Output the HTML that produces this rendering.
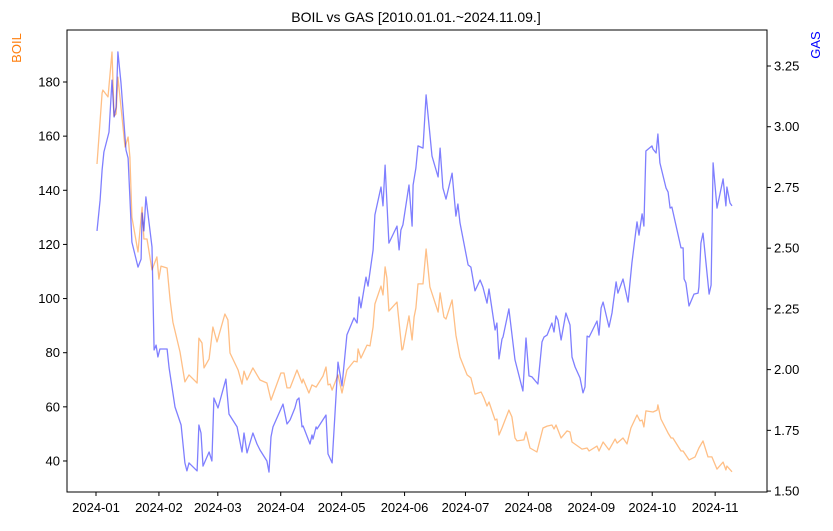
<!DOCTYPE html>
<html><head><meta charset="utf-8"><style>
body{margin:0;background:#fff}
svg{font-family:"Liberation Sans","DejaVu Sans",sans-serif}
</style></head><body>
<svg id="chart" width="833" height="526" xmlns="http://www.w3.org/2000/svg">
<rect width="833" height="526" fill="#fff"/>
<text x="416" y="22" text-anchor="middle" font-size="14">BOIL vs GAS [2010.01.01.~2024.11.09.]</text>
<text transform="translate(21,48) rotate(-90)" text-anchor="middle" font-size="13" fill="#ff7f0e">BOIL</text>
<text transform="translate(820,45) rotate(-90)" text-anchor="middle" font-size="13" fill="#0000ff">GAS</text>
<g id="axes"></g>
<g id="marks"></g>
<rect x="67" y="30" width="700" height="462" fill="none" stroke="#000" stroke-width="1"/>
</svg>
<script>
const boilDays=[0.5,3.0,3.4,5.9,7.9,8.9,9.9,10.8,12.8,14.3,15.8,16.7,17.7,20.7,22.7,23.6,25.1,27.6,30.0,31.0,32.0,35.0,36.5,37.9,41.4,43.8,45.8,49.8,50.7,52.2,53.2,55.7,57.6,59.6,63.5,65.0,66.0,70.0,71.9,72.9,74.4,77.3,79.3,80.8,84.2,86.2,91.1,92.6,94.1,95.6,99.0,101.5,102.0,104.9,106.4,108.4,111.8,113.3,114.3,115.3,116.3,119.2,121.2,123.6,127.1,128.6,129.1,130.5,133.5,135.0,136.5,137.4,140.4,141.4,142.4,143.3,144.3,148.3,150.7,151.2,154.2,155.7,156.7,157.6,158.6,161.1,162.6,164.5,168.5,169.5,171.4,172.4,175.4,177.3,179.3,182.8,184.7,186.7,189.7,191.1,192.6,193.6,196.6,197.5,198.5,200.0,203.4,204.9,206.4,207.4,210.8,211.8,213.8,217.2,220.2,222.2,224.6,225.6,226.6,229.1,232.0,233.5,234.5,239.4,241.9,242.9,246.8,247.8,249.8,252.7,255.7,256.7,259.6,261.6,263.5,266.5,268.0,269.0,269.9,270.9,274.4,276.4,276.8,278.3,281.8,283.3,284.2,288.2,289.2,292.1,295.1,297.0,299.0,301.5,303.4,305.9,308.9,310.3,310.8,313.3];
const boilValues=[149.7,175.9,177.0,174.5,191.1,167.4,168.2,181.8,167.1,156.0,159.7,152.3,130.1,117.2,133.8,122.0,122.0,110.6,115.4,107.2,112.0,111.3,99.5,91.3,80.3,69.2,71.8,68.8,85.4,83.6,74.4,77.7,89.5,84.0,94.3,92.1,79.9,73.6,68.4,73.2,69.9,74.4,71.8,69.9,68.8,62.5,72.5,72.5,67.0,67.0,73.6,68.8,70.3,65.1,68.1,67.3,71.4,74.7,68.1,68.4,66.2,71.8,65.1,73.6,76.9,76.6,81.4,78.0,82.8,82.5,89.5,98.0,104.6,101.3,111.7,107.6,95.4,98.7,81.0,81.4,93.6,84.7,93.2,96.5,105.4,105.4,118.3,104.3,95.0,102.1,93.2,92.4,99.5,86.5,78.4,71.8,70.7,64.7,65.5,63.3,60.3,61.8,55.1,55.5,49.6,52.2,58.8,56.3,48.5,47.4,47.8,50.7,44.8,43.3,52.2,52.9,53.3,51.8,53.3,48.5,51.1,50.7,47.0,44.4,44.8,43.7,45.5,43.7,47.0,44.1,48.1,46.6,48.5,46.3,52.2,57.0,54.8,55.1,52.6,58.5,58.1,58.8,60.7,55.5,50.3,48.5,48.5,43.7,43.7,40.4,41.5,44.8,47.4,41.5,41.5,37.0,39.6,36.7,38.1,36.0];
const gasDays=[0.5,2.0,3.0,3.9,6.4,7.9,8.9,9.9,10.8,12.3,14.8,15.8,17.7,20.7,22.2,22.7,23.6,24.6,27.6,28.6,29.6,30.5,31.5,35.0,36.0,38.9,41.9,43.8,44.8,45.8,49.8,50.7,51.7,52.7,55.7,57.1,58.1,60.1,64.0,65.5,69.5,71.9,72.9,74.4,77.3,79.3,80.8,84.2,85.2,86.2,87.2,92.1,94.1,95.6,98.0,99.0,100.0,101.5,102.0,105.4,106.4,106.9,108.4,108.9,113.3,114.3,116.3,119.2,121.2,123.6,127.1,128.6,129.6,130.5,133.0,134.0,136.5,137.4,140.4,141.4,142.4,144.3,148.3,149.3,150.2,151.2,154.2,155.7,156.2,157.6,158.6,161.1,162.6,165.5,168.5,169.5,170.9,172.4,175.4,177.3,178.3,179.3,183.3,184.7,186.7,189.2,190.6,192.6,193.6,196.6,197.5,198.5,200.0,200.5,203.4,206.4,210.3,211.8,213.3,214.8,217.7,219.7,220.7,222.2,224.6,225.6,226.6,227.6,229.1,231.5,233.5,234.5,236.0,238.4,239.9,240.9,241.9,242.9,246.8,247.8,248.8,249.8,252.7,254.2,254.7,256.2,257.1,259.6,262.1,264.0,266.5,267.5,269.0,269.9,270.9,273.9,274.4,275.9,276.8,277.8,280.8,281.8,282.8,283.7,288.2,289.2,289.7,290.6,292.1,294.6,296.6,297.0,298.0,299.0,300.5,302.0,303.0,304.0,305.9,308.9,310.3,310.8,312.3,313.3];
const gasValues=[2.571,2.698,2.822,2.896,2.978,3.192,3.040,3.081,3.308,3.180,2.904,2.871,2.525,2.422,2.455,2.645,2.571,2.711,2.505,2.081,2.101,2.052,2.085,2.085,2.007,1.846,1.772,1.616,1.583,1.616,1.583,1.772,1.739,1.603,1.661,1.624,1.883,1.842,1.961,1.817,1.764,1.661,1.739,1.657,1.739,1.694,1.669,1.624,1.578,1.723,1.764,1.858,1.776,1.793,1.842,1.875,1.883,1.764,1.768,1.694,1.731,1.714,1.764,1.756,1.813,1.653,1.616,2.031,1.933,2.143,2.213,2.192,2.299,2.254,2.381,2.344,2.493,2.637,2.752,2.674,2.842,2.521,2.591,2.493,2.575,2.596,2.760,2.591,2.760,2.830,2.921,2.912,3.131,2.879,2.793,2.912,2.748,2.702,2.809,2.632,2.682,2.604,2.431,2.422,2.324,2.369,2.340,2.274,2.332,2.163,2.192,2.044,2.126,2.134,2.250,2.040,1.912,2.130,1.974,1.970,1.941,2.114,2.134,2.142,2.192,2.155,2.221,2.204,2.122,2.233,2.184,2.052,2.011,1.966,1.904,1.929,2.138,2.134,2.200,2.142,2.254,2.278,2.175,2.233,2.266,2.361,2.315,2.373,2.278,2.439,2.608,2.554,2.641,2.591,2.900,2.921,2.908,2.892,2.970,2.851,2.748,2.731,2.665,2.669,2.501,2.501,2.373,2.357,2.262,2.311,2.315,2.340,2.521,2.562,2.439,2.311,2.348,2.851,2.665,2.785,2.674,2.752,2.686,2.674];
const xTickDays=[0,31,60,91,121,152,182,213,244,274,305];
const xTickLabels=["2024-01","2024-02","2024-03","2024-04","2024-05","2024-06","2024-07","2024-08","2024-09","2024-10","2024-11"];
const leftTicks=[40,60,80,100,120,140,160,180];
const rightTicks=[1.50,1.75,2.00,2.25,2.50,2.75,3.00,3.25];

const NS="http://www.w3.org/2000/svg";
const xS=d=>96+d*2.03;
const yL=v=>82+(180-v)*2.707;
const yR=v=>66+(3.25-v)*242.9;
const axes=document.getElementById('axes'), marks=document.getElementById('marks');
function mk(tag,attrs,parent){const e=document.createElementNS(NS,tag);for(const k in attrs)e.setAttribute(k,attrs[k]);parent.appendChild(e);return e;}

xTickDays.forEach((d,i)=>{
  const x=xS(d);
  const t=mk('line',{x1:x,x2:x,y1:492,y2:496,stroke:'#000'},axes);
  
  
  const l=mk('text',{x:x,y:512,'text-anchor':'middle','font-size':'13'},axes);
  l.textContent=xTickLabels[i];
  
  
});
leftTicks.forEach(v=>{
  const y=yL(v);
  const t=mk('line',{x1:63,x2:67,y1:y,y2:y,stroke:'#000'},axes);
  
  
  const l=mk('text',{x:60,y:y+4.5,'text-anchor':'end','font-size':'13'},axes);
  l.textContent=v;
  
  
});
rightTicks.forEach(v=>{
  const y=yR(v);
  const t=mk('line',{x1:767,x2:771,y1:y,y2:y,stroke:'#000'},axes);
  
  
  const l=mk('text',{x:774,y:y+4.5,'text-anchor':'start','font-size':'13'},axes);
  l.textContent=v.toFixed(2);
  
  
});
const boilPts=boilDays.map((d,i)=>xS(d).toFixed(1)+','+yL(boilValues[i]).toFixed(1)).join(' ');
const bl=mk('polyline',{points:boilPts,fill:'none',stroke:'#ff7f0e','stroke-opacity':'0.5','stroke-width':'1.3','stroke-linejoin':'round'},marks);


const gasPts=gasDays.map((d,i)=>xS(d).toFixed(1)+','+yR(gasValues[i]).toFixed(1)).join(' ');
const gl=mk('polyline',{points:gasPts,fill:'none',stroke:'#0000ff','stroke-opacity':'0.5','stroke-width':'1.3','stroke-linejoin':'round'},marks);


</script>
</body></html>
